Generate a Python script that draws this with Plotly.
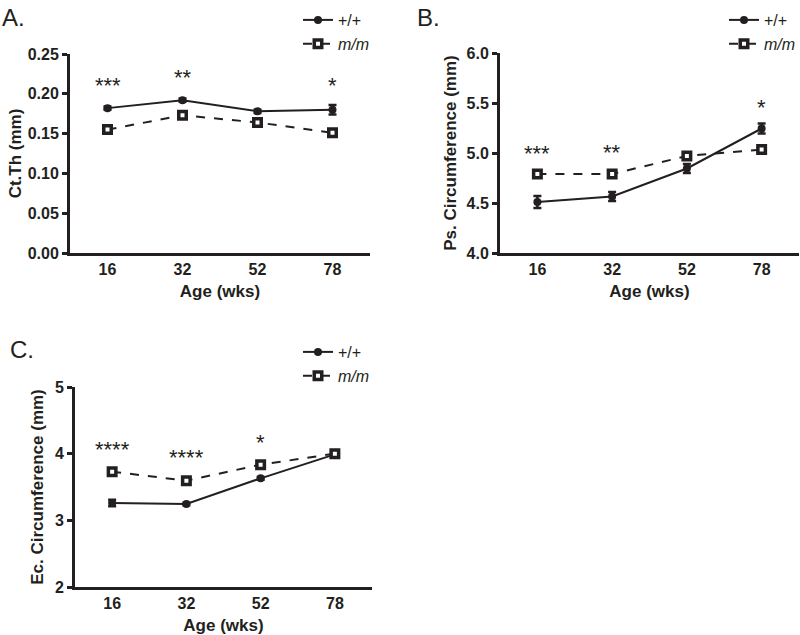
import plotly.graph_objects as go

ages = ["16", "32", "52", "78"]

# Panel A: Ct.Th (mm)
a_wt = [0.182, 0.192, 0.178, 0.180]
a_wt_err = [0.002, 0.002, 0.002, 0.006]
a_mm = [0.155, 0.173, 0.164, 0.151]
a_mm_err = [0.002, 0.002, 0.002, 0.003]
a_sig_x = ["16", "32", "78"]
a_sig_y = [0.210, 0.221, 0.210]
a_sig_txt = ["***", "**", "*"]

# Panel B: Ps. Circumference (mm)
b_wt = [4.51, 4.565, 4.845, 5.245]
b_wt_err = [0.06, 0.045, 0.045, 0.05]
b_mm = [4.79, 4.79, 4.97, 5.035]
b_mm_err = [0.02, 0.02, 0.03, 0.03]
b_sig_x = ["16", "32", "78"]
b_sig_y = [5.0, 5.01, 5.46]
b_sig_txt = ["***", "**", "*"]

# Panel C: Ec. Circumference (mm)
c_wt = [3.26, 3.245, 3.63, 3.99]
c_wt_err = [0.05, 0.02, 0.02, 0.02]
c_mm = [3.73, 3.595, 3.835, 4.0]
c_mm_err = [0.03, 0.03, 0.03, 0.02]
c_sig_x = ["16", "32", "52"]
c_sig_y = [4.07, 3.95, 4.17]
c_sig_txt = ["****", "****", "*"]

INK = "#231f20"
FONT = "Liberation Sans"
W, H = 800, 635

fig = go.Figure()

panels = [
    dict(xa="x", ya="y", xname="xaxis", yname="yaxis", leg="legend",
         wt=a_wt, wte=a_wt_err, mm=a_mm, mme=a_mm_err,
         sx=a_sig_x, sy=a_sig_y, st=a_sig_txt,
         xdom=[70, 370], ydom=[54, 253], yr=[0, 0.25], dt=0.05, fmt=".2f",
         ytitle="Ct.Th (mm)", ystand=2, legpos=(298, 3)),
    dict(xa="x2", ya="y2", xname="xaxis2", yname="yaxis2", leg="legend2",
         wt=b_wt, wte=b_wt_err, mm=b_mm, mme=b_mm_err,
         sx=b_sig_x, sy=b_sig_y, st=b_sig_txt,
         xdom=[500, 799], ydom=[53, 253], yr=[4, 6], dt=0.5, fmt=".1f",
         ytitle="Ps. Circumference (mm)", ystand=6, legpos=(724, 3)),
    dict(xa="x3", ya="y3", xname="xaxis3", yname="yaxis3", leg="legend3",
         wt=c_wt, wte=c_wt_err, mm=c_mm, mme=c_mm_err,
         sx=c_sig_x, sy=c_sig_y, st=c_sig_txt,
         xdom=[75, 372], ydom=[387, 587], yr=[2, 5], dt=1, fmt="d",
         ytitle="Ec. Circumference (mm)", ystand=7, legpos=(298, 335)),
]

layout = dict(
    width=W, height=H, margin=dict(l=0, r=0, t=0, b=0, autoexpand=False),
    paper_bgcolor="white", plot_bgcolor="white", showlegend=True,
    font=dict(family=FONT, color=INK),
)

annotations = []
for p in panels:
    fig.add_trace(go.Scatter(
        x=ages, y=p["wt"], xaxis=p["xa"], yaxis=p["ya"], name="+/+",
        legend=p["leg"], mode="lines+markers",
        line=dict(color=INK, width=2),
        marker=dict(symbol="circle", size=8, color=INK),
        error_y=dict(type="data", array=p["wte"], color=INK, thickness=2.5, width=4),
    ))
    fig.add_trace(go.Scatter(
        x=ages, y=p["mm"], xaxis=p["xa"], yaxis=p["ya"], name="<i>m/m</i>",
        legend=p["leg"], mode="lines+markers",
        line=dict(color=INK, width=2, dash="dash"),
        marker=dict(symbol="square", size=7.5, color="white",
                    line=dict(color=INK, width=3.5)),
        error_y=dict(type="data", array=p["mme"], color=INK, thickness=2.5, width=4),
    ))
    axis_common = dict(showline=True, linecolor=INK, linewidth=3, ticks="outside",
                       tickcolor=INK, tickwidth=2.5, ticklen=5, showgrid=False,
                       zeroline=False, automargin=False,
                       tickfont=dict(family=FONT, size=16, color=INK, weight="bold"))
    layout[p["xname"]] = dict(
        axis_common, type="category", categoryorder="array", categoryarray=ages,
        range=[-0.5, 3.5], anchor=p["ya"],
        domain=[p["xdom"][0] / W, p["xdom"][1] / W],
        ticks="", title=dict(text="Age (wks)", standoff=8,
                             font=dict(family=FONT, size=17, color=INK, weight="bold")),
    )
    layout[p["yname"]] = dict(
        axis_common, range=p["yr"], dtick=p["dt"], tick0=p["yr"][0],
        tickformat=p["fmt"], anchor=p["xa"],
        domain=[1 - p["ydom"][1] / H, 1 - p["ydom"][0] / H],
        title=dict(text=p["ytitle"], standoff=p["ystand"],
                   font=dict(family=FONT, size=17, color=INK, weight="bold")),
    )
    layout[p["leg"]] = dict(
        x=p["legpos"][0] / W, y=1 - p["legpos"][1] / H, xanchor="left", yanchor="top",
        bgcolor="rgba(0,0,0,0)", itemwidth=30, tracegroupgap=0,
        font=dict(family=FONT, size=16, color=INK),
    )
    for sx, sy, st in zip(p["sx"], p["sy"], p["st"]):
        annotations.append(dict(x=ages.index(sx), y=sy, xref=p["xa"], yref=p["ya"],
                                text=st, showarrow=False,
                                font=dict(family=FONT, size=22, color=INK)))

for lbl, lx, ly in [("A.", 0, 2), ("B.", 415, 2), ("C.", 8, 334)]:
    annotations.append(dict(x=lx / W, y=1 - ly / H, xref="paper", yref="paper",
                            xanchor="left", yanchor="top", text=lbl, showarrow=False,
                            font=dict(family=FONT, size=24, color=INK)))

layout["annotations"] = annotations
fig.update_layout(**layout)
fig.write_html("out.html", config={"displayModeBar": False},
               post_script="document.body.style.margin='0';document.body.style.padding='0';")
